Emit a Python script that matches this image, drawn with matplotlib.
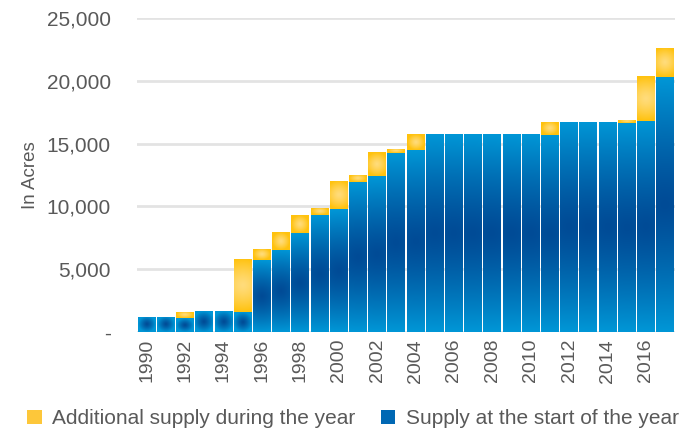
import numpy as np
import matplotlib.pyplot as plt
from matplotlib.patches import Patch
from matplotlib.colors import to_rgb
from matplotlib.ticker import FuncFormatter

plt.rcParams["font.family"] = ["Liberation Sans", "DejaVu Sans"]

years = list(range(1990, 2018))
start_supply = [1200, 1200, 1110, 1670, 1670, 1590, 5730, 6530, 7880, 9310,
                9790, 11940, 12420, 14250, 14490, 15760, 15760, 15760, 15760, 15760,
                15760, 15680, 16720, 16720, 16720, 16640, 16800, 20300]
added_supply = [0, 0, 480, 0, 0, 4220, 880, 1430, 1430, 560,
                2230, 560, 1910, 320, 1270, 0, 0, 0, 0, 0,
                0, 1040, 0, 0, 0, 240, 3580, 2310]

BLUE_EDGE, BLUE_MID = "#0096d6", "#004b96"
GOLD_EDGE, GOLD_MID = "#ffc20e", "#ffdc7c"
TEXT = "#595959"


def shade(patch, ax, edge, mid):
    """Fill a bar patch with a centre-dark radial gradient."""
    x0, y0 = patch.get_x(), patch.get_y()
    w, h = patch.get_width(), patch.get_height()
    if h <= 0:
        return
    (px0, py0), (px1, py1) = ax.transData.transform([(x0, y0), (x0 + w, y0 + h)])
    hw, hh = abs(px1 - px0) / 2, abs(py1 - py0) / 2
    ny, nx = 80, 20
    dy = np.linspace(-hh, hh, ny)[:, None]
    dx = np.linspace(-hw, hw, nx)[None, :]
    r = np.sqrt((dx / max(hh, hw)) ** 2 + (dy / hh) ** 2)
    r = np.clip(r, 0, 1) ** 1.3
    c0, c1 = np.array(to_rgb(mid)), np.array(to_rgb(edge))
    img = c0 + (c1 - c0) * r[..., None]
    im = ax.imshow(img, extent=(x0, x0 + w, y0, y0 + h), aspect="auto",
                   interpolation="bilinear", zorder=2, origin="lower")
    im.set_clip_path(patch)


fig = plt.figure(figsize=(6.92, 4.34), dpi=100)
ax = fig.add_axes([0.198, 0.235, 0.777, 0.7235])

x = np.arange(len(years))
base = ax.bar(x, start_supply, width=0.93, color="none", zorder=2)
top = ax.bar(x, added_supply, bottom=start_supply, width=0.93, color="none", zorder=2)

ax.set_xlim(-0.5, len(years) - 0.5)
ax.set_ylim(0, 25000)

for p in base:
    shade(p, ax, BLUE_EDGE, BLUE_MID)
for p in top:
    shade(p, ax, GOLD_EDGE, GOLD_MID)

ax.set_yticks(range(0, 25001, 5000))
ax.yaxis.set_major_formatter(FuncFormatter(lambda v, _: "-" if v == 0 else f"{v:,.0f}"))
ax.grid(axis="y", color="#e3e3e3", linewidth=2)
ax.set_axisbelow(True)
for s in ax.spines.values():
    s.set_visible(False)

ax.set_xticks(x[::2])
ax.set_xticklabels([str(y) for y in years[::2]], rotation=90)
ax.tick_params(axis="x", length=0, pad=5, labelsize=14, colors=TEXT)
ax.tick_params(axis="y", length=0, pad=19, labelsize=15, colors=TEXT)
ax.set_ylabel("In Acres", fontsize=13.5, color=TEXT, labelpad=5)

handles = [Patch(facecolor="#fdc73a", label="Additional supply during the year"),
           Patch(facecolor="#0068b4", label="Supply at the start of the year")]
fig.legend(handles=handles, loc="center", bbox_to_anchor=(0.51, 0.035), ncol=2,
           frameon=False, fontsize=15, handlelength=0.7, handleheight=0.7,
           handletextpad=0.5, columnspacing=1.2, labelcolor=TEXT)

fig.savefig("out.png", dpi=100)
